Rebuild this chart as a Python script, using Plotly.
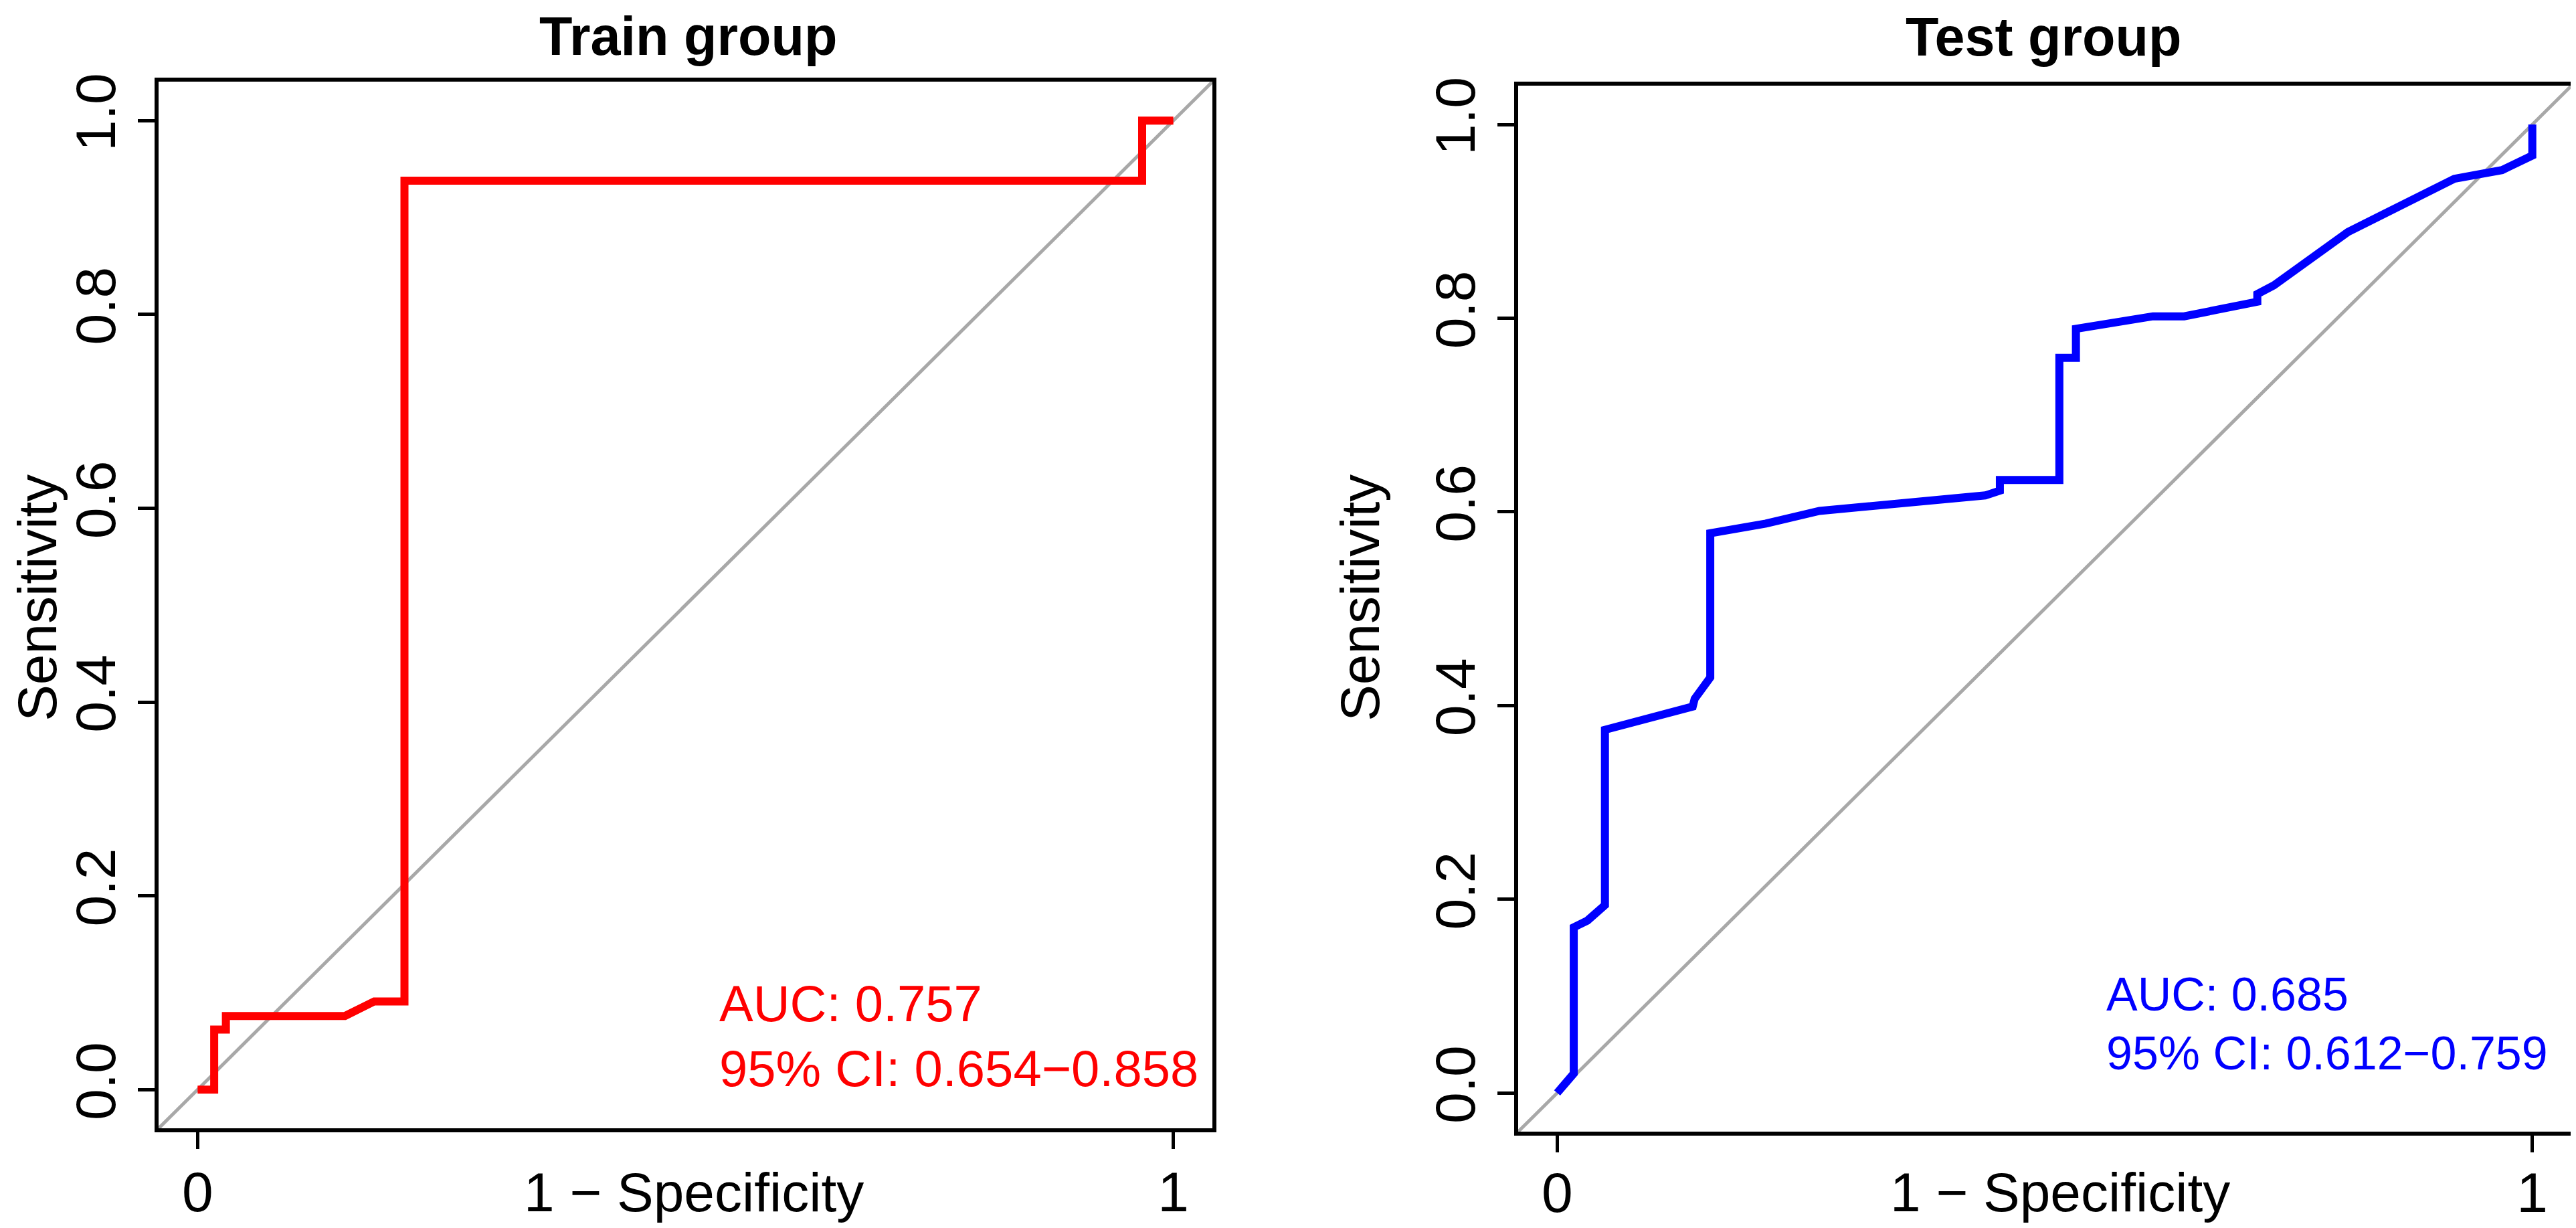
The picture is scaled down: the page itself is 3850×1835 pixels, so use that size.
import plotly.graph_objects as go

# ROC curve vertices (x = 1 - specificity, y = sensitivity)
train_fpr = [0.0, 0.017, 0.017, 0.029, 0.029, 0.151, 0.181, 0.212, 0.212, 0.968, 0.968, 1.0]
train_tpr = [0.0, 0.0, 0.062, 0.062, 0.076, 0.076, 0.091, 0.091, 0.938, 0.938, 1.0, 1.0]

test_fpr = [0.0, 0.017, 0.017, 0.031, 0.049, 0.049, 0.139, 0.141, 0.157, 0.157, 0.214, 0.269,
            0.439, 0.454, 0.454, 0.515, 0.515, 0.532, 0.532, 0.576, 0.611, 0.643, 0.718, 0.718,
            0.735, 0.811, 0.920, 0.969, 1.0, 1.0]
test_tpr = [0.0, 0.020, 0.171, 0.178, 0.194, 0.375, 0.399, 0.407, 0.429, 0.578, 0.588, 0.601,
            0.617, 0.622, 0.633, 0.633, 0.759, 0.759, 0.789, 0.797, 0.802, 0.802, 0.817, 0.825,
            0.834, 0.889, 0.944, 0.953, 0.968, 1.0]

groups = ["Train group", "Test group"]
auc_text = ["AUC: 0.757", "AUC: 0.685"]
ci_text = ["95% CI: 0.654\u22120.858", "95% CI: 0.612\u22120.759"]
colors = ["#FF0000", "#0000FF"]

y_ticks = [0.0, 0.2, 0.4, 0.6, 0.8, 1.0]
y_ticktext = ["0.0", "0.2", "0.4", "0.6", "0.8", "1.0"]
x_ticks = [0, 1]
x_ticktext = ["0", "1"]

FONT = "Liberation Sans, Arial, sans-serif"

fig = go.Figure()

fig.add_trace(go.Scatter(x=train_fpr, y=train_tpr, mode="lines",
                         line=dict(color=colors[0], width=12), xaxis="x", yaxis="y",
                         showlegend=False, hoverinfo="skip"))
fig.add_trace(go.Scatter(x=test_fpr, y=test_tpr, mode="lines",
                         line=dict(color=colors[1], width=12), xaxis="x2", yaxis="y2",
                         showlegend=False, hoverinfo="skip"))

axis_common = dict(range=[-0.04, 1.04], showgrid=False, zeroline=False,
                   showline=True, mirror=True, linecolor="black", linewidth=6,
                   ticks="outside", ticklen=25, tickwidth=5, tickcolor="black",
                   tickfont=dict(family=FONT, size=84, color="black"), fixedrange=True)

fig.update_layout(
    width=3850, height=1835,
    margin=dict(l=0, r=0, t=0, b=0),
    paper_bgcolor="white", plot_bgcolor="white",
    xaxis=dict(domain=[0.05948, 0.46857], tickvals=x_ticks, ticktext=x_ticktext,
               anchor="y", ticklabelstandoff=-8, **axis_common),
    yaxis=dict(domain=[0.08610, 0.94441], tickvals=y_ticks, ticktext=y_ticktext,
               tickangle=-90, anchor="x", **axis_common),
    xaxis2=dict(domain=[0.58727, 0.99610], tickvals=x_ticks, ticktext=x_ticktext,
                anchor="y2", ticklabelstandoff=-12, **axis_common),
    yaxis2=dict(domain=[0.08338, 0.94115], tickvals=y_ticks, ticktext=y_ticktext,
                tickangle=-90, anchor="x2", **axis_common),
)

# diagonal reference lines
for xr, yr in [("x domain", "y domain"), ("x2 domain", "y2 domain")]:
    fig.add_shape(type="line", xref=xr, yref=yr, x0=0, y0=0, x1=1, y1=1,
                  line=dict(color="#A8A8A8", width=5), layer="below")

# titles
fig.add_annotation(text="<b>Train group</b>", xref="paper", yref="paper", x=0.2652, y=0.982,
                   xanchor="center", yanchor="middle", showarrow=False,
                   font=dict(family=FONT, size=81, color="black"))
fig.add_annotation(text="<b>Test group</b>", xref="paper", yref="paper", x=0.7912, y=0.9815,
                   xanchor="center", yanchor="middle", showarrow=False,
                   font=dict(family=FONT, size=81, color="black"))

# axis titles
for xc in [0.2673, 0.7977]:
    fig.add_annotation(text="1 \u2212 Specificity", xref="paper", yref="paper", x=xc, y=0.0338,
                       xanchor="center", yanchor="middle", showarrow=False,
                       font=dict(family=FONT, size=82, color="black"))
for xc in [0.0125, 0.5260]:
    fig.add_annotation(text="Sensitivity", xref="paper", yref="paper", x=xc, y=0.521,
                       xanchor="center", yanchor="middle", textangle=-90, showarrow=False,
                       font=dict(family=FONT, size=82, color="black"))

# AUC labels
fig.add_annotation(text=auc_text[0], xref="x", yref="y", x=0.533, y=0.0887, xanchor="left",
                   yanchor="middle", showarrow=False,
                   font=dict(family=FONT, size=76, color=colors[0]))
fig.add_annotation(text=ci_text[0], xref="x", yref="y", x=0.533, y=0.0217, xanchor="left",
                   yanchor="middle", showarrow=False,
                   font=dict(family=FONT, size=76, color=colors[0]))
fig.add_annotation(text=auc_text[1], xref="x2", yref="y2", x=0.562, y=0.102, xanchor="left",
                   yanchor="middle", showarrow=False,
                   font=dict(family=FONT, size=70, color=colors[1]))
fig.add_annotation(text=ci_text[1], xref="x2", yref="y2", x=0.562, y=0.041, xanchor="left",
                   yanchor="middle", showarrow=False,
                   font=dict(family=FONT, size=70, color=colors[1]))

fig.write_html("out.html")
